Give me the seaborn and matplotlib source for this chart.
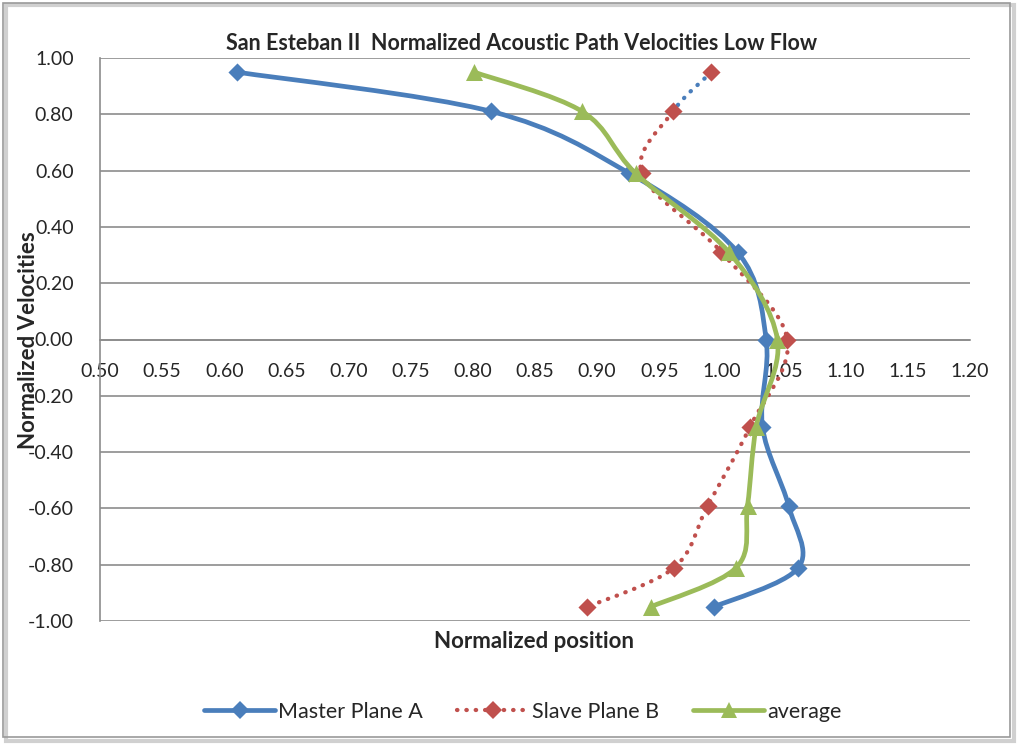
import numpy as np
import pandas as pd
import matplotlib
matplotlib.use("Agg")
import matplotlib.pyplot as plt
from matplotlib.path import Path
from matplotlib.patches import PathPatch, Rectangle
from matplotlib.lines import Line2D
import seaborn as sns

# Normalized path positions (vertical) and velocities per plane
positions = [0.95, 0.81, 0.59, 0.31, 0.00, -0.31, -0.59, -0.81, -0.95]
master_a = [0.610, 0.815, 0.926, 1.013, 1.036, 1.033, 1.054, 1.062, 0.994]
slave_b = [0.992, 0.961, 0.936, 1.000, 1.053, 1.023, 0.989, 0.962, 0.892]
average = [0.801, 0.888, 0.931, 1.006, 1.045, 1.028, 1.021, 1.012, 0.943]

x_ticks = [0.50, 0.55, 0.60, 0.65, 0.70, 0.75, 0.80, 0.85, 0.90, 0.95,
           1.00, 1.05, 1.10, 1.15, 1.20]
y_ticks = [-1.0, -0.8, -0.6, -0.4, -0.2, 0.0, 0.2, 0.4, 0.6, 0.8, 1.0]

BLUE = "#4A7EBB"
RED = "#C0504D"
GREEN = "#9BBB59"
GRID = "#8C8C8C"
TEXT = "#262626"

sns.set_theme(style="white")
plt.rcParams["font.family"] = ["Lato", "DejaVu Sans"]
plt.rcParams["axes.unicode_minus"] = False

fig = plt.figure(figsize=(10.19, 7.44), dpi=100)
ax = fig.add_axes([100 / 1019, 1 - 621 / 744, 870 / 1019, 563 / 744])


def smooth_segments(xs, ys, k=1 / 6):
    """Cubic Bezier pieces through the points (Catmull-Rom style smoothing)."""
    pts = np.column_stack([xs, ys]).astype(float)
    n = len(pts)
    segs = []
    for i in range(n - 1):
        p0 = pts[max(i - 1, 0)]
        p1 = pts[i]
        p2 = pts[i + 1]
        p3 = pts[min(i + 2, n - 1)]
        c1 = p1 + (p2 - p0) * k
        c2 = p2 - (p3 - p1) * k
        segs.append((p1, c1, c2, p2))
    return segs


def draw_curve(segs, color, lw, ls="-", z=2):
    verts = [segs[0][0]]
    codes = [Path.MOVETO]
    for _, c1, c2, p2 in segs:
        verts += [c1, c2, p2]
        codes += [Path.CURVE4] * 3
    patch = PathPatch(Path(verts, codes), fill=False, edgecolor=color,
                      lw=lw, linestyle=ls, capstyle="round",
                      joinstyle="round", zorder=z)
    ax.add_patch(patch)


LW = 3.4
DOT = (0, (0.1, 2.1))

# Master plane A
draw_curve(smooth_segments(master_a, positions), BLUE, LW, z=2)
sns.scatterplot(x=master_a, y=positions, marker="D", s=85, color=BLUE,
                edgecolor=BLUE, linewidth=0, ax=ax, zorder=3, legend=False)

# Slave plane B (top segment carries the blue dotted format)
slave_segs = smooth_segments(slave_b, positions)
draw_curve(slave_segs[:1], BLUE, LW * 0.9, ls=DOT, z=4)
draw_curve(slave_segs[1:], RED, LW * 0.9, ls=DOT, z=4)
sns.scatterplot(x=slave_b, y=positions, marker="D", s=85, color=RED,
                edgecolor=RED, linewidth=0, ax=ax, zorder=5, legend=False)

# Average
draw_curve(smooth_segments(average, positions), GREEN, LW, z=6)
sns.scatterplot(x=average, y=positions, marker="^", s=150, color=GREEN,
                edgecolor=GREEN, linewidth=0, ax=ax, zorder=7, legend=False)

ax.set_xlim(0.5, 1.2)
ax.set_ylim(-1.0, 1.0)
ax.set_xticks(x_ticks)
ax.set_yticks(y_ticks)
ax.set_xticklabels([f"{v:.2f}" for v in x_ticks])
ax.set_yticklabels([f"{v:.2f}" for v in y_ticks])
ax.tick_params(axis="both", length=0, labelsize=14, colors=TEXT)
ax.tick_params(axis="x", pad=17)
ax.tick_params(axis="y", pad=19)

ax.grid(False)
for yv in y_ticks:
    ax.axhline(yv, color=GRID, lw=1.2, zorder=1)

for side in ["top", "right"]:
    ax.spines[side].set_visible(False)
ax.spines["bottom"].set_position(("data", 0))
ax.spines["bottom"].set_color(GRID)
ax.spines["bottom"].set_linewidth(1.2)
ax.spines["left"].set_color(GRID)
ax.spines["left"].set_linewidth(1.2)

fig.text(522 / 1019, 1 - 44 / 744,
         "San Esteban II  Normalized Acoustic Path Velocities Low Flow",
         ha="center", va="center", fontsize=15.5, fontweight="bold",
         color=TEXT)
fig.text(534 / 1019, 1 - 642 / 744, "Normalized position", ha="center",
         va="center", fontsize=16, fontweight="bold", color=TEXT)
fig.text(29 / 1019, 1 - 340 / 744, "Normalized Velocities", ha="center",
         va="center", rotation=90, fontsize=16, fontweight="bold",
         color=TEXT)

handles = [
    Line2D([], [], color=BLUE, lw=LW, marker="D", markersize=9.5,
           markeredgewidth=0),
    Line2D([], [], color=RED, lw=LW * 0.9, ls=DOT, dash_capstyle="round",
           marker="D", markersize=9.5, markeredgewidth=0),
    Line2D([], [], color=GREEN, lw=LW, marker="^", markersize=12,
           markeredgewidth=0),
]
fig.legend(handles, ["Master Plane A", "Slave Plane B", "average"],
           loc="center", bbox_to_anchor=(523 / 1019, 1 - 712 / 744),
           ncol=3, frameon=False, fontsize=15.5, handlelength=3.3,
           handletextpad=0.15, columnspacing=1.6)

# Chart-area border with a soft shadow
fig.patches.append(Rectangle((6 / 1019, 1 - 741 / 744), 1008 / 1019, 736 / 744,
                             transform=fig.transFigure, fill=False,
                             edgecolor="#d0d0d0", lw=3, zorder=0))
fig.patches.append(Rectangle((3 / 1019, 1 - 737 / 744), 1007 / 1019, 734 / 744,
                             transform=fig.transFigure, fill=False,
                             edgecolor="#9a9a9a", lw=1.2, zorder=1))

fig.savefig("out.png", dpi=100)
